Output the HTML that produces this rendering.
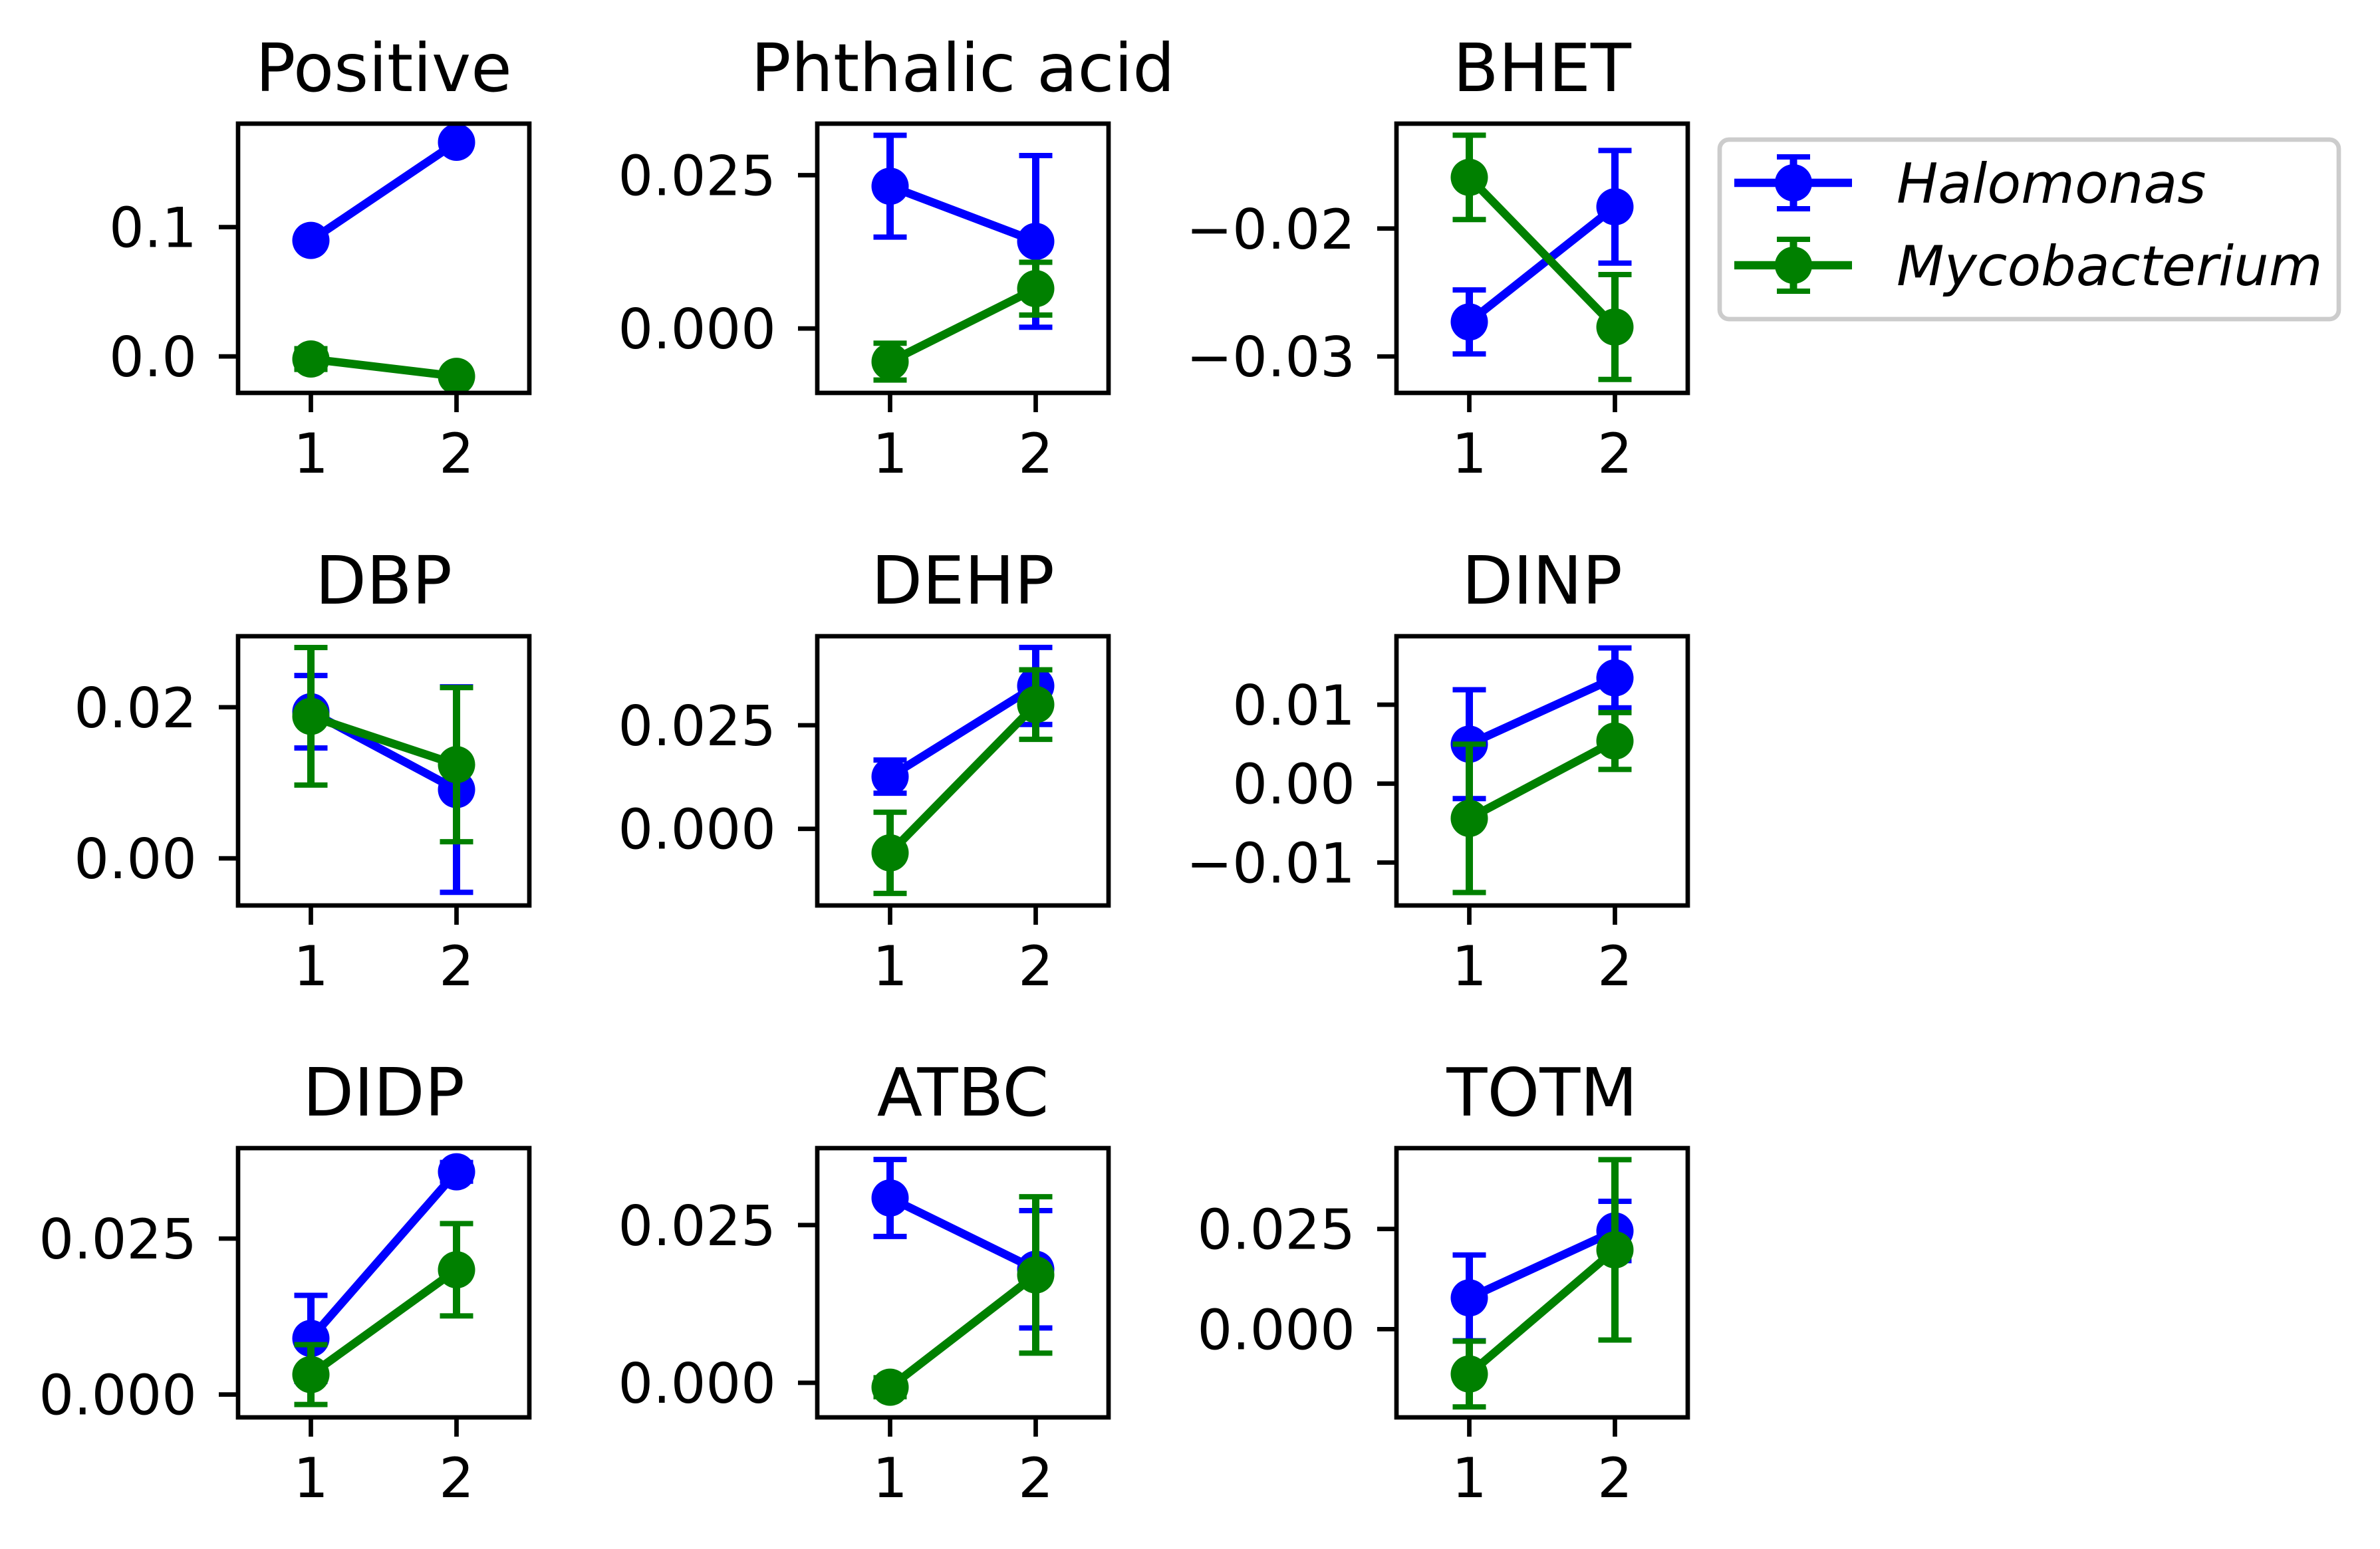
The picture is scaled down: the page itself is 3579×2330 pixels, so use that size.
<!DOCTYPE html>
<html>
<head>
<meta charset="utf-8">
<style>
html,body{margin:0;padding:0;background:#fff;}
svg{display:block;}
text{font-family:"DejaVu Sans","Liberation Sans",sans-serif;fill:#000;}
</style>
</head>
<body>
<svg id="fig" width="3579" height="2330" viewBox="0 0 3579 2330" xmlns="http://www.w3.org/2000/svg">
<rect x="0" y="0" width="3579" height="2330" fill="#fff"/>
<g id="panels"></g>
<g id="legend">
  <rect x="2586" y="210" width="931" height="270" rx="14" ry="14" fill="#fff" stroke="#cccccc" stroke-width="6.7"/>
  <g>
    <line x1="2608" y1="275" x2="2785" y2="275" stroke="#0000ff" stroke-width="12.5"/>
    <line x1="2697" y1="236" x2="2697" y2="314" stroke="#0000ff" stroke-width="11"/>
    <line x1="2672" y1="236" x2="2722" y2="236" stroke="#0000ff" stroke-width="8"/>
    <line x1="2672" y1="314" x2="2722" y2="314" stroke="#0000ff" stroke-width="8"/>
    <circle cx="2697" cy="275" r="28" fill="#0000ff"/>
    <text x="2852" y="305" font-size="83" font-style="italic">Halomonas</text>
  </g>
  <g>
    <line x1="2608" y1="399" x2="2785" y2="399" stroke="#008000" stroke-width="12.5"/>
    <line x1="2697" y1="360" x2="2697" y2="438" stroke="#008000" stroke-width="11"/>
    <line x1="2672" y1="360" x2="2722" y2="360" stroke="#008000" stroke-width="8"/>
    <line x1="2672" y1="438" x2="2722" y2="438" stroke="#008000" stroke-width="8"/>
    <circle cx="2697" cy="399" r="28" fill="#008000"/>
    <text x="2852" y="429" font-size="83" font-style="italic">Mycobacterium</text>
  </g>
</g>
</svg>
<script>
// ---- data ----
const titles = ["Positive","Phthalic acid","BHET","DBP","DEHP","DINP","DIDP","ATBC","TOTM"];
const categories = [1, 2];
const haloValues = [[0.0897,0.1656],[0.0232,0.0142],[-0.0273,-0.0183],[0.0194,0.0091],[0.0126,0.0345],[0.0050,0.0134],[0.0090,0.0357],[0.0293,0.0180],[0.0078,0.0245]];
const haloErrs   = [[0.003,0.003],[0.0083,0.014],[0.0025,0.0044],[0.0048,0.0136],[0.004,0.0093],[0.0069,0.0038],[0.0069,0.0015],[0.0061,0.0093],[0.0107,0.0074]];
const mycoValues = [[-0.002,-0.0154],[-0.0054,0.0065],[-0.0160,-0.0277],[0.0188,0.0124],[-0.0058,0.0300],[-0.0044,0.0054],[0.0032,0.0200],[-0.0007,0.0171],[-0.0112,0.0198]];
const mycoErrs   = [[0.008,0.003],[0.003,0.0043],[0.0033,0.0041],[0.0091,0.0102],[0.0098,0.0084],[0.0094,0.0036],[0.0048,0.0074],[0.0015,0.0124],[0.0082,0.0225]];
const yMins = [-0.0282,-0.0105,-0.03285,-0.00624,-0.0185,-0.01544,-0.00366,-0.00548,-0.02202];
const yMaxs = [0.18,0.0334,-0.0118,0.0294,0.0465,0.01868,0.0395,0.0372,0.04518];
const yTicks = [[0,0.1],[0,0.025],[-0.03,-0.02],[0,0.02],[0,0.025],[-0.01,0,0.01],[0,0.025],[0,0.025],[0,0.025]];
const yTickLabels = [["0.0","0.1"],["0.000","0.025"],["\u22120.03","\u22120.02"],["0.00","0.02"],["0.000","0.025"],["\u22120.01","0.00","0.01"],["0.000","0.025"],["0.000","0.025"],["0.000","0.025"]];
const xTickLabels = ["1","2"];

// ---- layout ----
const NS = "http://www.w3.org/2000/svg";
const colLeft = [358, 1229, 2100];
const rowTop = [186, 957, 1727];
const AW = 438, AH = 405;
const root = document.getElementById("panels");
function mk(tag, attrs, parent){
  const e = document.createElementNS(NS, tag);
  for (const k in attrs) e.setAttribute(k, attrs[k]);
  parent.appendChild(e);
  return e;
}
const series = [
  {name:"halomonas", color:"#0000ff", vals:haloValues, errs:haloErrs},
  {name:"mycobacterium", color:"#008000", vals:mycoValues, errs:mycoErrs}
];
titles.forEach((t, i) => {
  const L = colLeft[i % 3], T = rowTop[Math.floor(i / 3)];
  const slug = t.toLowerCase().replace(/\s+/g, "-");
  const sx = v => L + (v - 0.5) / 2.0 * AW;
  const sy = v => T + AH - (v - yMins[i]) / (yMaxs[i] - yMins[i]) * AH;
  const g = mk("g", {}, root);
  
  
  const title = mk("text", {x: L + AW / 2, y: T - 49, "font-size": 100, "text-anchor": "middle"}, g);
  title.textContent = t;
  
  
  // y ticks
  yTicks[i].forEach((tv, k) => {
    const y = sy(tv);
    const tk = mk("line", {x1: L - 29, y1: y, x2: L, y2: y, stroke: "#000", "stroke-width": 6.7}, g);
    
    
    const tl = mk("text", {x: L - 62, y: y + 30, "font-size": 83, "text-anchor": "end"}, g);
    tl.textContent = yTickLabels[i][k];
    
    
  });
  // x ticks
  categories.forEach((c, k) => {
    const x = sx(c);
    const tk = mk("line", {x1: x, y1: T + AH, x2: x, y2: T + AH + 29, stroke: "#000", "stroke-width": 6.7}, g);
    
    
    const tl = mk("text", {x: x, y: T + AH + 120, "font-size": 83, "text-anchor": "middle"}, g);
    tl.textContent = xTickLabels[k];
    
    
  });
  // clip
  const cp = mk("clipPath", {id: "clip" + i}, g);
  mk("rect", {x: L, y: T, width: AW, height: AH}, cp);
  const plot = mk("g", {"clip-path": "url(#clip" + i + ")"}, g);
  series.forEach(s => {
    const sg = mk("g", {}, plot);
    
    
    categories.forEach((c, k) => {
      const x = sx(c), v = s.vals[i][k], e = s.errs[i][k];
      const eb = mk("g", {stroke: s.color}, sg);
      
      
      mk("line", {x1: x, y1: sy(v - e), x2: x, y2: sy(v + e), "stroke-width": 11}, eb);
      mk("line", {x1: x - 25, y1: sy(v - e), x2: x + 25, y2: sy(v - e), "stroke-width": 8}, eb);
      mk("line", {x1: x - 25, y1: sy(v + e), x2: x + 25, y2: sy(v + e), "stroke-width": 8}, eb);
    });
    const pts = categories.map((c, k) => sx(c) + "," + sy(s.vals[i][k])).join(" ");
    const pl = mk("polyline", {points: pts, fill: "none", stroke: s.color, "stroke-width": 12.5}, sg);
    
    
    categories.forEach((c, k) => {
      const pt = mk("circle", {cx: sx(c), cy: sy(s.vals[i][k]), r: 28, fill: s.color}, sg);
      
      
    });
  });
  const fr = mk("rect", {x: L, y: T, width: AW, height: AH, fill: "none", stroke: "#000", "stroke-width": 6.7}, g);
  
  
});
</script>
</body>
</html>
